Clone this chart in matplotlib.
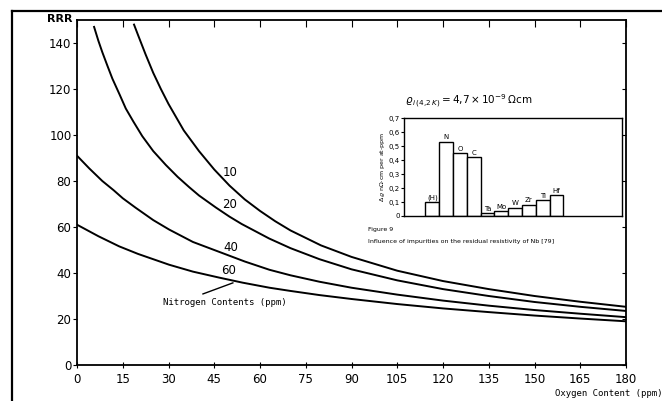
import matplotlib
matplotlib.use("Agg")
import matplotlib.pyplot as plt

# main chart: RRR vs oxygen content for several nitrogen contents
o_n10 = [18.7, 20, 22.5, 25, 27.5, 30, 35, 40, 45, 50, 55, 60, 65, 70, 80, 90, 105, 120, 135, 150, 165, 180]
rrr_n10 = [148, 143.5, 135, 127, 120, 113.5, 102, 93, 85, 78, 72, 67, 62.5, 58.5, 52, 47, 41, 36.5, 33, 30, 27.5, 25.3]

o_n20 = [5.6, 7, 8.3, 10, 11.6, 14, 16, 18.5, 21.4, 25, 29.1, 33, 36.8, 40, 45.5, 50, 54, 63, 70, 79.5,
         90, 105, 120, 135, 150, 165, 180]
rrr_n20 = [147, 141, 136, 130, 124.5, 117.5, 111.5, 105.8, 99.5, 93, 87, 81.8, 77.3, 73.7, 68.5, 64.5, 61.3, 55, 50.8, 46,
           41.6, 36.8, 33, 30, 27.4, 25.3, 23.5]

o_n40 = [0, 4, 8.3, 12, 15, 19.2, 25, 30.2, 38, 46.6, 55, 63.1, 70, 79.5, 90, 105, 120, 135, 150, 165, 180]
rrr_n40 = [91, 85.5, 80, 76, 72.5, 68.4, 63, 58.9, 53.5, 49.2, 45, 41.4, 39, 36.2, 33.6, 30.6, 28, 25.8, 23.9, 22.3, 20.8]

o_n60 = [0, 7, 13.8, 20, 30.2, 38, 46.6, 54.3, 63.1, 70, 79.5, 90, 105, 120, 135, 150, 165, 180]
rrr_n60 = [61, 56, 51.6, 48.3, 43.6, 40.6, 38, 35.8, 33.6, 32.2, 30.4, 28.7, 26.5, 24.6, 23, 21.5, 20.2, 19]

curve_labels = ["10", "20", "40", "60"]
x_ticks = [0, 15, 30, 45, 60, 75, 90, 105, 120, 135, 150, 165, 180]
y_ticks = [0, 20, 40, 60, 80, 100, 120, 140]

# inset: resistivity increase per impurity
impurities = ["(H)", "N", "O", "C", "Ta", "Mo", "W", "Zr", "Ti", "Hf"]
drho = [0.10, 0.53, 0.45, 0.42, 0.02, 0.035, 0.06, 0.08, 0.115, 0.15]
inset_ticks = [0, 0.1, 0.2, 0.3, 0.4, 0.5, 0.6, 0.7]
inset_tick_labels = ["0", "0,1", "0,2", "0,3", "0,4", "0,5", "0,6", "0,7"]

W, H = 662, 401


def fx(px):
    return px / W


def fy(py):
    return 1 - py / H


def main():
    plt.rcParams["font.family"] = ["DejaVu Sans"]
    fig = plt.figure(figsize=(W / 100, H / 100), dpi=100)

    # scanned page frame (left and top edges)
    fig.add_artist(plt.Line2D([fx(12), fx(12)], [fy(11), fy(401)], color="black", lw=1.6))
    fig.add_artist(plt.Line2D([fx(12), fx(662)], [fy(11), fy(11)], color="black", lw=1.6))

    ax = fig.add_axes([fx(77), fy(365), fx(626) - fx(77), fy(20) - fy(365)])
    for xs, ys in [(o_n10, rrr_n10), (o_n20, rrr_n20), (o_n40, rrr_n40), (o_n60, rrr_n60)]:
        ax.plot(xs, ys, color="black", lw=1.4)

    ax.set_xlim(0, 180)
    ax.set_ylim(0, 150)
    ax.set_xticks(x_ticks)
    ax.set_yticks(y_ticks)
    ax.tick_params(axis="x", direction="inout", length=5, labelsize=8.5, pad=3, top=True)
    ax.tick_params(axis="y", direction="out", length=3, labelsize=8.5, pad=1, right=True)
    for t in ax.yaxis.get_ticklines()[1::2]:
        t.set_marker(0)  # right-side ticks point inward
    for t in ax.xaxis.get_ticklines()[1::2]:
        t.set_marker(3)  # top ticks point inward
    for s in ax.spines.values():
        s.set_linewidth(1.3)

    label_pos = [(50.2, 83.5), (49.9, 70), (50.3, 51.3), (49.8, 41.2)]
    for lab, (lx, ly) in zip(curve_labels, label_pos):
        ax.text(lx, ly, lab, fontsize=8.5, ha="center", va="center")

    ax.text(28.2, 27, "Nitrogen Contents (ppm)", fontsize=6.5, family="DejaVu Sans Mono",
            ha="left", va="center")
    ax.plot([41.3, 51.1], [30.9, 35.7], color="black", lw=1)

    fig.text(fx(47), fy(19), "RRR", fontsize=8, ha="left", va="center", weight="bold")
    fig.text(fx(555), fy(393), "Oxygen Content (ppm)", fontsize=6.5,
             family="DejaVu Sans Mono", ha="left", va="center")

    # inset bar chart
    ins = fig.add_axes([fx(404), fy(216), fx(622) - fx(404), fy(118) - fy(216)])
    pos = list(range(len(impurities)))
    ins.bar(pos, drho, width=1, align="edge", facecolor="white", edgecolor="black", lw=1)
    for p, v, lab in zip(pos, drho, impurities):
        ins.text(p + 0.5, v + 0.01, lab, fontsize=5, ha="center", va="bottom")
    ins.set_xlim(-1.55, 14.25)
    ins.set_ylim(0, 0.7)
    ins.set_xticks([])
    ins.set_yticks(inset_ticks)
    ins.set_yticklabels(inset_tick_labels)
    ins.tick_params(axis="y", length=2, labelsize=5, pad=1)
    for s in ins.spines.values():
        s.set_linewidth(1)
    ins.set_ylabel(r"$\Delta\,\varrho$ n$\Omega$-cm per at-ppm", fontsize=4.5, labelpad=1)

    fig.text(fx(405), fy(101), r"$\varrho_{\,i\,(4{,}2\,K)} = 4{,}7 \times 10^{-9}\,\Omega$cm",
             fontsize=7.5, ha="left", va="center")
    fig.text(fx(368), fy(230), "Figure 9", fontsize=4.5, ha="left", va="center")
    fig.text(fx(368), fy(241), "Influence of impurities on the residual resistivity of Nb [79]",
             fontsize=4.5, ha="left", va="center")

    fig.savefig("out.png", dpi=100)
    plt.close(fig)


if __name__ == "__main__":
    main()
